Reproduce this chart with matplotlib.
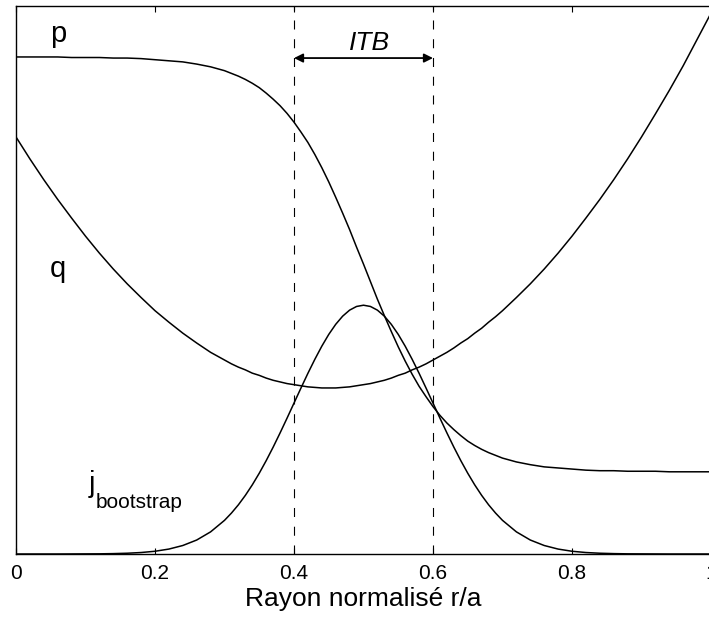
import matplotlib
matplotlib.use("Agg")
import matplotlib.pyplot as plt

plt.rcParams['font.family'] = ['Liberation Sans', 'DejaVu Sans']
plt.rcParams['lines.scale_dashes'] = False

# normalised radius r/a (denser sampling across the barrier)
r = [0.00, 0.02, 0.04, 0.06, 0.08, 0.10, 0.12, 0.14, 0.16, 0.18, 0.20, 0.22, 0.24, 0.26, 0.28,
     0.30, 0.31, 0.32, 0.33, 0.34, 0.35, 0.36, 0.37, 0.38, 0.39,
     0.40, 0.41, 0.42, 0.43, 0.44, 0.45, 0.46, 0.47, 0.48, 0.49,
     0.50, 0.51, 0.52, 0.53, 0.54, 0.55, 0.56, 0.57, 0.58, 0.59,
     0.60, 0.61, 0.62, 0.63, 0.64, 0.65, 0.66, 0.67, 0.68, 0.69, 0.70,
     0.72, 0.74, 0.76, 0.78, 0.80, 0.82, 0.84, 0.86, 0.88, 0.90, 0.92, 0.94, 0.96, 0.98, 1.00]

# pressure profile (arbitrary units)
p = [0.907, 0.907, 0.907, 0.907, 0.906, 0.906, 0.906, 0.905, 0.905, 0.904, 0.902, 0.900, 0.898, 0.894, 0.889,
     0.882, 0.877, 0.872, 0.866, 0.859, 0.851, 0.841, 0.830, 0.818, 0.804,
     0.788, 0.770, 0.751, 0.729, 0.705, 0.679, 0.651, 0.622, 0.592, 0.560,
     0.529, 0.497, 0.465, 0.435, 0.406, 0.378, 0.352, 0.328, 0.306, 0.287,
     0.269, 0.253, 0.239, 0.227, 0.216, 0.206, 0.198, 0.191, 0.185, 0.180, 0.175,
     0.168, 0.163, 0.159, 0.157, 0.155, 0.153, 0.152, 0.152, 0.151, 0.151, 0.151, 0.150, 0.150, 0.150, 0.150]

# safety factor
q = [0.761, 0.721, 0.683, 0.647, 0.613, 0.580, 0.549, 0.520, 0.493, 0.468, 0.444, 0.423, 0.403, 0.385, 0.368,
     0.354, 0.347, 0.341, 0.336, 0.330, 0.326, 0.321, 0.317, 0.314, 0.311,
     0.309, 0.307, 0.305, 0.304, 0.303, 0.303, 0.303, 0.304, 0.305, 0.307,
     0.309, 0.311, 0.314, 0.317, 0.321, 0.326, 0.330, 0.336, 0.341, 0.347,
     0.354, 0.361, 0.368, 0.376, 0.385, 0.393, 0.403, 0.412, 0.423, 0.433, 0.444,
     0.468, 0.493, 0.520, 0.549, 0.580, 0.613, 0.647, 0.683, 0.721, 0.761, 0.803, 0.846, 0.891, 0.939, 0.987]

# bootstrap current
jbs = [0.000, 0.000, 0.000, 0.000, 0.0001, 0.0002, 0.0003, 0.0007, 0.0014, 0.0027, 0.0050, 0.0090, 0.0155, 0.0255, 0.0404,
       0.0614, 0.0747, 0.0898, 0.1070, 0.1262, 0.1474, 0.1704, 0.1950, 0.2210, 0.2479,
       0.2754, 0.3028, 0.3297, 0.3553, 0.3792, 0.4007, 0.4191, 0.4340, 0.4450, 0.4517,
       0.4540, 0.4517, 0.4450, 0.4340, 0.4191, 0.4007, 0.3792, 0.3553, 0.3297, 0.3028,
       0.2754, 0.2479, 0.2210, 0.1950, 0.1704, 0.1474, 0.1262, 0.1070, 0.0898, 0.0747, 0.0614,
       0.0404, 0.0255, 0.0155, 0.0090, 0.0050, 0.0027, 0.0014, 0.0007, 0.0003, 0.0002, 0.0001, 0.000, 0.000, 0.000, 0.000]

itbEdges = [0.4, 0.6]
xTicks = [0, 0.2, 0.4, 0.6, 0.8, 1]
xTickLabels = ['0', '0.2', '0.4', '0.6', '0.8', '1']

fig = plt.figure(figsize=(7.09, 6.21), dpi=100)
ax = fig.add_axes([16 / 709, 1 - 554 / 621, 695 / 709, 548 / 621])

for curve in (p, q, jbs):
    ax.plot(r, curve, color='black', lw=1.1, solid_joinstyle='round')

for edge in itbEdges:
    ax.axvline(edge, color='black', lw=0.8, ls=(0, (6.5, 7)))

ax.annotate('', xy=(itbEdges[1], 0.905), xytext=(itbEdges[0], 0.905),
            arrowprops=dict(arrowstyle='<|-|>', color='black', lw=1.3,
                            mutation_scale=13, shrinkA=0, shrinkB=0))
ax.text(0.508, 0.919, 'ITB', fontsize=19, style='italic', ha='center', va='baseline')

ax.text(0.049, 0.934, 'p', fontsize=21, va='baseline')
ax.text(0.049, 0.505, 'q', fontsize=21, va='baseline')
ax.text(0.104, 0.113, 'j', fontsize=21, va='baseline')
ax.text(0.115, 0.084, 'bootstrap', fontsize=15, va='baseline')

ax.set_xlim(0, 1)
ax.set_ylim(0, 1)
ax.set_xticks(xTicks)
ax.set_xticklabels(xTickLabels)
ax.set_yticks([])
ax.tick_params(axis='x', direction='in', top=True, length=4.5, width=0.8,
               labelsize=15, pad=7)
for spine in ax.spines.values():
    spine.set_linewidth(1.0)
ax.set_xlabel('Rayon normalisé r/a', fontsize=19, labelpad=3)

fig.savefig('out.png', dpi=100)
